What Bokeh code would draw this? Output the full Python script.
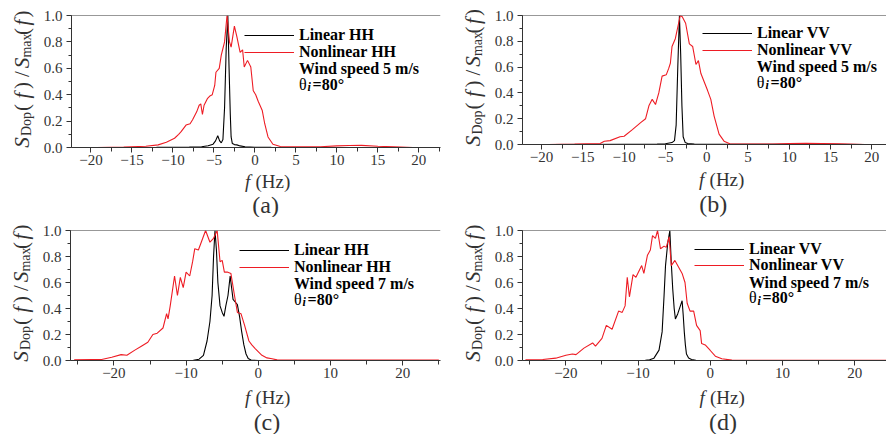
import math
from bokeh.plotting import figure
from bokeh.models import (Range1d, SingleIntervalTicker, PrintfTickFormatter, Label,
                          Legend, LegendItem, Span)
from bokeh.layouts import column, row
from bokeh.embed import file_html
from bokeh.resources import INLINE

# ---------------- data ----------------
# (a) HH, wind 5 m/s
a_lin_f = [-19.3, -12, -8, -6.5, -5.7, -5.1, -4.8, -4.53, -4.3, -4.1, -3.9, -3.7, -3.5, -3.3,
           -3.15, -3.0, -2.9, -2.75, -2.5, -2.2, -1.8, -1.2, 0, 2, 19.3]
a_lin_v = [0, 0.001, 0.003, 0.006, 0.013, 0.025, 0.05, 0.089, 0.05, 0.035, 0.06, 0.3, 0.75, 1.0,
           0.6, 0.25, 0.08, 0.03, 0.022, 0.02, 0.012, 0.006, 0.002, 0.001, 0]
a_non_f = [-19.3, -16, -13.3, -11.8, -10.8, -9.8, -9.3, -9.0, -8.4, -7.9, -7.6, -7.1, -6.8, -6.6,
           -6.4, -6.2, -5.8, -5.5, -5.2, -4.9, -4.75, -4.35, -4.1, -3.9, -3.7, -3.4, -3.1, -2.9,
           -2.5, -2.2, -2.0, -1.8, -1.5, -1.3, -0.9, -0.5, -0.2, 0.1, 0.4, 0.9, 1.2, 1.6, 2.2,
           3.1, 5, 8, 10, 11.5, 13, 15, 17, 19.3]
a_non_v = [0, 0.003, 0.01, 0.02, 0.04, 0.07, 0.1, 0.12, 0.17, 0.18, 0.21, 0.27, 0.32, 0.33,
           0.25, 0.32, 0.37, 0.39, 0.4, 0.47, 0.57, 0.6, 0.7, 0.75, 0.8, 1.0, 0.8, 0.76,
           0.92, 0.84, 0.78, 0.72, 0.74, 0.61, 0.66, 0.61, 0.43, 0.4, 0.35, 0.28, 0.18, 0.08, 0.025,
           0.008, 0.005, 0.006, 0.012, 0.015, 0.016, 0.01, 0.005, 0]

# (b) VV, wind 5 m/s
b_lin_f = [-19.3, -10, -6, -5, -4.2, -3.9, -3.7, -3.5, -3.3, -3.15, -3.0, -2.85, -2.6, -2.3,
           -1.5, 0, 5, 10, 12, 15, 19.3]
b_lin_v = [0, 0.001, 0.003, 0.006, 0.015, 0.03, 0.15, 0.6, 1.0, 0.7, 0.3, 0.06, 0.015, 0.008,
           0.004, 0.002, 0.001, 0.003, 0.004, 0.002, 0]
b_non_f = [-19.2, -16, -12.9, -12.4, -11.7, -10.5, -10.0, -9.0, -8.0, -7.4, -7.0, -6.6, -6.2,
           -5.8, -5.4, -4.9, -4.6, -4.4, -4.2, -3.8, -3.2, -2.96, -2.55, -2.1, -1.7, -1.3,
           -1.0, -0.7, 0.1, 0.5, 0.9, 1.5, 2.1, 2.8, 5, 8, 10, 12, 14, 16, 19.2]
b_non_v = [0, 0.003, 0.008, 0.025, 0.03, 0.06, 0.064, 0.115, 0.17, 0.2, 0.3, 0.35, 0.31,
           0.4, 0.53, 0.54, 0.59, 0.63, 0.76, 0.82, 1.0, 0.99, 0.94, 0.78, 0.76, 0.62,
           0.65, 0.55, 0.42, 0.35, 0.22, 0.08, 0.026, 0.005, 0.003, 0.004, 0.008, 0.01, 0.008, 0.005, 0]

# (c) HH, wind 7 m/s
c_lin_f = [-25.5, -12, -9, -8.2, -7.6, -7.1, -6.7, -6.4, -6.2, -6.0, -5.8, -5.6, -5.3, -5.0,
           -4.75, -4.5, -4.2, -3.9, -3.7, -3.5, -3.2, -2.9, -2.6, -2.3, -2.0, -1.7, -1.4, -1.0, 0, 25]
c_lin_v = [0, 0, 0.002, 0.01, 0.04, 0.15, 0.3, 0.5, 0.8, 1.0, 0.85, 0.6, 0.42, 0.37,
           0.34, 0.42, 0.5, 0.65, 0.56, 0.47, 0.45, 0.43, 0.34, 0.22, 0.12, 0.05, 0.015, 0.004, 0, 0]
c_non_f = [-25.5, -23, -21.7, -20.3, -19.0, -18.2, -17.1, -16.2, -15.3, -14.6, -14.0, -13.2,
           -12.7, -12.5, -12.2, -11.6, -11.2, -10.8, -10.4, -10.0, -9.5, -9.1, -8.8, -8.3, -7.9,
           -7.3, -6.7, -6.2, -5.7, -5.3, -5.0, -4.7, -4.3, -3.8, -3.3, -2.9, -2.4, -1.9, -1.3,
           -0.9, -0.4, 0.5, 1.2, 1.9, 2.6, 5, 10, 15, 20, 25]
c_non_v = [0.005, 0.007, 0.008, 0.025, 0.045, 0.04, 0.08, 0.11, 0.14, 0.2, 0.21, 0.25,
           0.36, 0.32, 0.42, 0.65, 0.5, 0.64, 0.56, 0.68, 0.65, 0.76, 0.86, 0.85, 0.91,
           1.0, 0.91, 0.94, 1.0, 0.76, 0.77, 0.68, 0.68, 0.67, 0.5, 0.37, 0.36, 0.27, 0.15,
           0.12, 0.09, 0.04, 0.02, 0.013, 0.005, 0.003, 0.003, 0.003, 0.003, 0.003]

# (d) VV, wind 7 m/s
d_lin_f = [-25.5, -12, -9, -8.4, -7.8, -7.1, -6.67, -6.4, -6.2, -5.9, -5.6, -5.4, -5.2, -5.0,
           -4.83, -4.5, -4.2, -3.9, -3.75, -3.6, -3.45, -3.3, -3.0, -2.6, -2.0, 0, 25]
d_lin_v = [0, 0, 0.002, 0.005, 0.018, 0.08, 0.22, 0.5, 0.73, 0.9, 1.0, 0.75, 0.55, 0.4,
           0.32, 0.36, 0.41, 0.46, 0.35, 0.22, 0.12, 0.05, 0.02, 0.008, 0.002, 0, 0]
d_non_f = [-25.6, -23.2, -21.4, -20.0, -19.1, -18.6, -17.5, -16.3, -15.9, -15.0, -14.4, -13.6,
           -12.7, -12.2, -11.8, -11.5, -11.2, -10.7, -10.3, -9.5, -9.2, -8.7, -8.3, -8.0, -7.6,
           -7.3, -6.9, -6.4, -6.1, -5.7, -5.4, -4.9, -4.4, -3.9, -3.5, -3.2, -2.8, -2.3, -1.9,
           -1.4, -1.2, -0.7, 0.0, 0.7, 1.6, 3.0, 10, 25]
d_non_v = [0.005, 0.008, 0.018, 0.04, 0.05, 0.045, 0.095, 0.135, 0.11, 0.17, 0.27, 0.24,
           0.38, 0.37, 0.42, 0.64, 0.49, 0.66, 0.64, 0.73, 0.67, 0.81, 0.85, 0.96, 0.94,
           1.0, 0.86, 0.88, 0.87, 0.95, 0.73, 0.77, 0.72, 0.67, 0.6, 0.44, 0.38, 0.38, 0.27,
           0.23, 0.13, 0.12, 0.077, 0.033, 0.013, 0.003, 0.002, 0.002]

y_ticks_step = 0.2

SERIF = "Liberation Serif"
AX = "#333333"
RED = "#ee1c24"
PANEL_W, PANEL_H = 443, 217
LB, BB = 30, 25   # border of the main figure reserved for the tick labels


def strip(w, h):
    s = figure(width=w, height=h, x_range=Range1d(0, w), y_range=Range1d(h, 0),
               min_border=0, x_axis_location=None, y_axis_location=None,
               toolbar_location=None, output_backend="svg")
    s.grid.visible = False
    s.outline_line_color = None
    return s


def lab(p, x, y, text, size, style="normal", align="left", angle=0, color="black"):
    p.add_layout(Label(x=x, y=y, text=text, text_font=SERIF, text_font_size=f"{size}px",
                       text_font_style=style, text_align=align, text_baseline="middle",
                       angle=angle, text_color=color))


def panel(spec):
    fl, fw, ft, fh = spec["geom"]
    br = PANEL_W - fl - fw
    x0, x1 = spec["xr"]
    mw, mh = LB + fw + br, ft + fh + BB
    p = figure(width=mw, height=mh, min_border_left=LB, min_border_right=br,
               min_border_top=ft, min_border_bottom=BB,
               x_range=Range1d(x0, x1), y_range=Range1d(0, 1),
               output_backend="svg", toolbar_location=None)
    p.grid.visible = False
    p.outline_line_color = None

    for ax in (p.xaxis[0], p.yaxis[0]):
        ax.axis_line_color = AX
        ax.major_tick_line_color = AX
        ax.minor_tick_line_color = AX
        ax.major_tick_in = 0
        ax.minor_tick_in = 0
        ax.major_tick_out = 5
        ax.minor_tick_out = 4
        ax.major_label_text_font = SERIF
        ax.major_label_text_font_size = "15px"
        ax.major_label_text_color = AX
    p.xaxis.ticker = SingleIntervalTicker(interval=spec["xstep"], num_minor_ticks=2)
    p.yaxis.ticker = SingleIntervalTicker(interval=y_ticks_step, num_minor_ticks=2)
    p.yaxis.formatter = PrintfTickFormatter(format="%.1f")
    p.yaxis.minor_tick_out = 3
    p.xaxis.major_label_standoff = 2
    p.yaxis.major_label_standoff = 4
    p.add_layout(Span(location=1, dimension="width", line_color=AX, line_width=1))

    r1 = p.line(spec["lf"], spec["lv"], line_color="black", line_width=1.1)
    r2 = p.line(spec["nf"], spec["nv"], line_color=RED, line_width=1.1)

    # legend: one legend per row so the row pitch matches the reference
    tl = spec["text_left"]
    r1y = spec["row1"]
    pitch = 16.5
    for k, (name, r) in enumerate(zip(spec["names"], (r1, r2))):
        cy = r1y + k * pitch
        leg = Legend(items=[LegendItem(label=name, renderers=[r])],
                     location=(tl - 55 - fl, (ft + fh) - (cy + 10)),
                     label_text_font=SERIF, label_text_font_style="bold",
                     label_text_font_size="16px", label_text_color="black",
                     glyph_width=50, glyph_height=20, label_height=20, label_standoff=5,
                     spacing=0, padding=0, margin=0, border_line_color=None,
                     background_fill_alpha=0)
        p.add_layout(leg)

    # extra legend lines: panel pixel -> data coordinates of the main figure
    def dx(px):
        return x0 + (px - fl) * (x1 - x0) / fw

    def dy(py):
        return (ft + fh - py) / fh

    lab(p, dx(tl), dy(r1y + 33), spec["wind"], 16, "bold")
    lab(p, dx(tl), dy(r1y + 48.5), "θ", 16)
    lab(p, dx(tl + 8.7), dy(r1y + 51.5), "i", 12, "bold italic")
    lab(p, dx(tl + 13.7), dy(r1y + 48.5), "=80°", 16, "bold")

    # y-axis label strip
    off = fl - LB
    ys = strip(off, PANEL_H)
    yc = ft + fh / 2
    pieces = [("S", 61, False, True), ("Dop", 42.5, True, False), ("(", 26, False, False),
              ("f", 14, False, True), (")", 4, False, False), ("/", -7.5, False, False),
              ("S", -18.5, False, True), ("max", -36, True, False), ("(", -50, False, False),
              ("f", -59, False, True), (")", -67.5, False, False)]
    for t, o, sub, it in pieces:
        cx = fl - (44 if sub else 49)
        lab(ys, cx, yc + o, t, 14 if sub else 21, "italic" if it else "normal",
            align="center", angle=math.pi / 2, color=AX)

    # x-axis label + panel letter strip
    xs = strip(mw, PANEL_H - mh)
    fx, xly = spec["xlab"]
    lx, ly = spec["letter"]
    lab(xs, fx - off, xly - mh, "f", 19, "italic", align="center", color=AX)
    lab(xs, fx - off + 8.5, xly - mh, "(Hz)", 19, color=AX)
    lab(xs, lx - off, ly - mh, spec["tag"], 24, align="center", color=AX)

    return row(ys, column(p, xs))


specs = [
    dict(geom=(70, 370, 15, 132), xr=(-22.37, 22.64), xstep=5,
         lf=a_lin_f, lv=a_lin_v, nf=a_non_f, nv=a_non_v,
         names=("Linear HH", "Nonlinear HH"), wind="Wind speed 5 m/s",
         text_left=298, row1=35, xlab=(232.5, 181), letter=(252, 204), tag="(a)"),
    dict(geom=(78, 365, 15, 129), xr=(-22.31, 21.78), xstep=5,
         lf=b_lin_f, lv=b_lin_v, nf=b_non_f, nv=b_non_v,
         names=("Linear VV", "Nonlinear VV"), wind="Wind speed 5 m/s",
         text_left=313, row1=33.3, xlab=(242.5, 179), letter=(255, 203), tag="(b)"),
    dict(geom=(69, 371, 13, 130), xr=(-26.01, 25.23), xstep=10,
         lf=c_lin_f, lv=c_lin_v, nf=c_non_f, nv=c_non_v,
         names=("Linear HH", "Nonlinear HH"), wind="Wind speed 7 m/s",
         text_left=293, row1=33.3, xlab=(232.5, 180), letter=(253.5, 204), tag="(c)"),
    dict(geom=(78, 365, 13, 130), xr=(-26.01, 24.41), xstep=10,
         lf=d_lin_f, lv=d_lin_v, nf=d_non_f, nv=d_non_v,
         names=("Linear VV", "Nonlinear VV"), wind="Wind speed 7 m/s",
         text_left=305, row1=31.7, xlab=(243, 180), letter=(265.5, 204), tag="(d)"),
]

panels = [panel(s) for s in specs]
layout = column(row(panels[0], panels[1]), row(panels[2], panels[3]))
open("out.html", "w").write(file_html(layout, INLINE))
